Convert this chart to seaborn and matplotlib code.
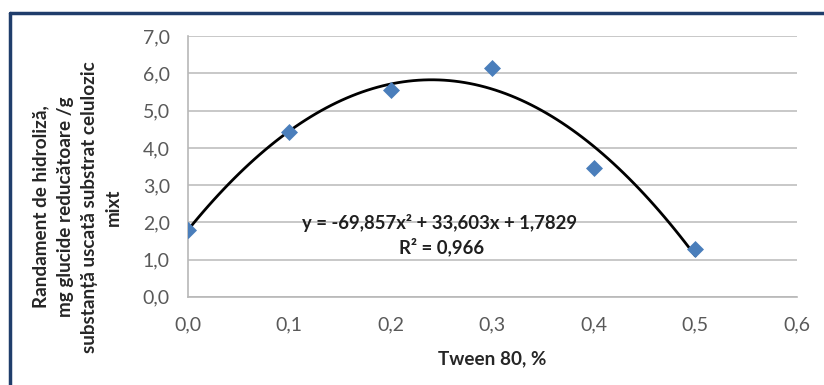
import matplotlib
matplotlib.use("Agg")
import matplotlib.pyplot as plt
import seaborn as sns
import numpy as np
import pandas as pd
from matplotlib.lines import Line2D

tween = [0.0, 0.1, 0.2, 0.3, 0.4, 0.5]
yield_vals = [1.80, 4.43, 5.55, 6.14, 3.47, 1.29]
x_ticks = [0.0, 0.1, 0.2, 0.3, 0.4, 0.5, 0.6]
y_ticks = [0.0, 1.0, 2.0, 3.0, 4.0, 5.0, 6.0, 7.0]
eq_text = "y = -69,857x² + 33,603x + 1,7829"
r2_text = "R² = 0,966"
x_label = "Tween 80, %"
y_label = "Randament de hidroliză,\nmg glucide reducătoare /g\nsubstanță uscată substrat celulozic\nmixt"

df = pd.DataFrame({"x": tween, "y": yield_vals})

sns.set_theme(style="white")
plt.rcParams["font.family"] = ["Lato", "DejaVu Sans"]

fig = plt.figure(figsize=(8.24, 3.85), dpi=100)
ax = fig.add_axes([0.228, 0.229, 0.739, 0.677])

sns.regplot(data=df, x="x", y="y", order=2, ci=None, scatter=False, truncate=True,
            line_kws={"color": "black", "lw": 2.0}, ax=ax)
sns.scatterplot(data=df, x="x", y="y", marker="D", s=75, color="#4a7ebb",
                edgecolor="#4a7ebb", linewidth=0, ax=ax, zorder=3)

ax.set_xlim(0, 0.6)
ax.set_ylim(0, 7.0)
ax.set_xticks(x_ticks)
ax.set_yticks(y_ticks)
ax.set_xticklabels([f"{v:.1f}".replace(".", ",") for v in x_ticks])
ax.set_yticklabels([f"{v:.1f}".replace(".", ",") for v in y_ticks])
ax.tick_params(axis="both", length=0, labelsize=13, colors="#595959")
ax.tick_params(axis="x", pad=14)
ax.tick_params(axis="y", pad=13)
ax.grid(axis="y", color="#c4c4c4", lw=1.3)
ax.set_axisbelow(True)
for s in ["top", "right"]:
    ax.spines[s].set_visible(False)
for s in ["left", "bottom"]:
    ax.spines[s].set_color("#b8b8b8")
    ax.spines[s].set_linewidth(1.2)

ax.set_xlabel(x_label, fontsize=13.5, fontweight="bold", color="#262626", labelpad=12)
ylab = ax.set_ylabel(y_label, fontsize=14, fontweight="bold", color="#262626",
                     va="center", ha="center", rotation_mode="default", linespacing=1.2,
                     multialignment="center")
ax.yaxis.set_label_coords(-0.182, 0.345)

t_eq = ax.text(0.248, 1.98, eq_text, ha="center", va="center", fontsize=13, fontweight="bold", color="#1f1f1f")
t_r2 = ax.text(0.25, 1.34, r2_text, ha="center", va="center", fontsize=13, fontweight="bold", color="#1f1f1f")

# fit text sizes to the reference's pixel extents
fig.canvas.draw()
r = fig.canvas.get_renderer()

def fit_width(t, target):
    w = t.get_window_extent(r).width
    t.set_fontsize(t.get_fontsize() * target / w)

fit_width(t_eq, 274)
fit_width(t_r2, 85)
fit_width(ax.xaxis.label, 108)
tl = ax.get_yticklabels()[-1]
fs_tick = tl.get_fontsize() * 27 / tl.get_window_extent(r).width
ax.tick_params(axis="both", labelsize=fs_tick)

# y label: longest line ~294 px long, four lines spanning ~89 px across
h = ylab.get_window_extent(r).height
ylab.set_fontsize(ylab.get_fontsize() * 294 / h)
ylab.set_linespacing(1.0)
w1 = ylab.get_window_extent(r).width
ylab.set_linespacing(1.6)
w2 = ylab.get_window_extent(r).width
ls = 1.0 + (89 - w1) * 0.6 / (w2 - w1)
ylab.set_linespacing(max(0.9, ls))

border = "#1f3d6b"
fig.add_artist(Line2D([10/824, 1.0], [1 - 13/385, 1 - 13/385], transform=fig.transFigure,
                      color=border, lw=2.5))
fig.add_artist(Line2D([10/824, 10/824], [0.0, 1 - 13/385], transform=fig.transFigure,
                      color=border, lw=2.5))

fig.savefig("out.png", dpi=100)
